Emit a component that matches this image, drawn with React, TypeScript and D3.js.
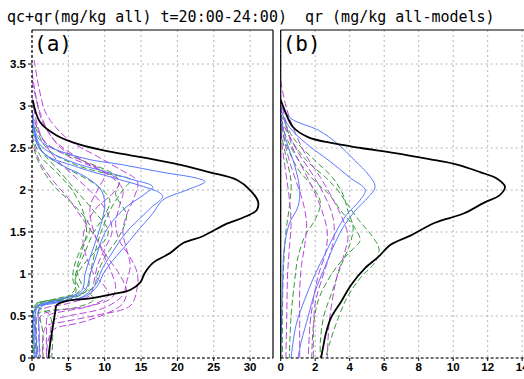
import React from "react"
import * as d3 from "d3"

type Pt = [number, number]

// axis ticks and titles
const yTicks = [0, 0.5, 1, 1.5, 2, 2.5, 3, 3.5]
const xTicksA = [0, 5, 10, 15, 20, 25, 30]
const xTicksB = [0, 2, 4, 6, 8, 10, 12, 14]
const titleA = "qc+qr(mg/kg all) t=20:00-24:00)"
const titleB = "qr (mg/kg all-models)"

// panel (a): qc+qr, black = reference profile
const obsA: Pt[] = [
    [0.1, 3.07], [1.1, 2.81], [3.4, 2.65], [6.6, 2.54], [11.1, 2.45], [15.8, 2.38], [20.4, 2.3],
    [24.5, 2.21], [28.2, 2.12], [30.0, 2.0], [31.1, 1.86], [30.9, 1.76], [29.0, 1.67], [26.8, 1.6],
    [23.5, 1.45], [20.8, 1.37], [19.0, 1.25], [16.6, 1.13], [15.5, 1.01], [14.9, 0.9], [13.5, 0.81],
    [11.1, 0.76], [8.0, 0.71], [4.8, 0.68], [3.4, 0.63], [3.2, 0.55], [2.75, 0.31], [2.3, 0.04], [2.3, 0],
]

const blueA: Pt[][] = [
    [[0, 2.95], [1, 2.6], [6.6, 2.39], [12.5, 2.3], [18, 2.21], [22.7, 2.14], [23.8, 2.1], [21.3, 2.0], [18, 1.88],
     [16.6, 1.72], [14.4, 1.5], [12.5, 1.3], [11, 1.15], [9.8, 1.0], [9, 0.86], [7.5, 0.74], [3, 0.65], [0.5, 0.6], [0.3, 0.3], [0.3, 0]],
    [[0, 2.9], [1, 2.55], [5, 2.35], [10, 2.22], [14, 2.12], [16.6, 2.04], [15.5, 1.95], [13, 1.8], [11, 1.62],
     [9.8, 1.45], [8.8, 1.2], [8, 1.0], [7.4, 0.82], [5, 0.7], [1, 0.62], [0.5, 0.55], [0.6, 0.2], [0.6, 0]],
    [[0, 2.85], [1.5, 2.45], [6, 2.28], [11, 2.15], [15, 2.05], [17.5, 1.97], [18, 1.92], [16.5, 1.8], [15.3, 1.7],
     [13, 1.5], [11, 1.25], [9.6, 1.05], [8.8, 0.88], [7, 0.73], [2, 0.64], [1, 0.58], [1, 0.3], [1, 0]],
    [[0, 2.8], [1, 2.5], [4, 2.3], [7.5, 2.15], [9.5, 2.0], [10, 1.85], [9.8, 1.7], [9, 1.45], [8, 1.2],
     [7.3, 1.0], [6.8, 0.8], [3, 0.68], [0.5, 0.6], [0.5, 0]],
]

const greenA: Pt[][] = [
    [[0, 2.85], [2, 2.5], [6, 2.3], [10, 2.2], [13.5, 2.12], [12.5, 2.0], [11, 1.8], [9.5, 1.5], [8.5, 1.2],
     [8, 1.0], [7.5, 0.8], [5, 0.7], [1, 0.66], [0.2, 0.6], [0.2, 0]],
    [[0, 2.75], [1.5, 2.45], [5, 2.25], [9, 2.05], [10.7, 1.88], [10, 1.7], [8.5, 1.5], [7, 1.2], [6, 1.0],
     [5.8, 0.8], [4, 0.7], [1, 0.64], [0.5, 0.58], [0.6, 0]],
    [[0, 2.7], [1, 2.5], [4, 2.2], [6.5, 1.95], [8.5, 1.75], [10.5, 1.5], [9, 1.3], [7, 1.1], [6, 0.95],
     [6.5, 0.8], [5, 0.72], [2, 0.65], [1, 0.6], [1.5, 0.3], [1.5, 0]],
    [[0, 2.6], [0.8, 2.35], [3, 2.05], [6, 1.8], [8, 1.55], [7, 1.35], [6, 1.15], [5.6, 0.95], [6, 0.78],
     [3, 0.7], [0.5, 0.62], [0.3, 0]],
    [[0, 2.9], [2, 2.55], [7, 2.35], [11, 2.2], [12, 2.1], [11.5, 1.95], [13, 1.7], [12, 1.45], [10, 1.2],
     [9, 1.0], [8.5, 0.85], [6, 0.74], [2, 0.68], [0.5, 0.64], [2.5, 0.5], [2.7, 0]],
    [[0, 2.65], [1.2, 2.4], [3.5, 2.2], [5.5, 2.0], [7, 1.75], [7.5, 1.5], [6.8, 1.25], [6.2, 1.05], [7, 0.85],
     [8.5, 0.7], [6, 0.6], [2, 0.56], [0.8, 0.52], [0.9, 0]],
]

const magentaA: Pt[][] = [
    [[0.3, 3.55], [1, 3.2], [2, 2.9], [5, 2.6], [9, 2.4], [12, 2.25], [14.5, 2.1], [14, 1.9], [13, 1.7],
     [12.5, 1.5], [13, 1.3], [13.5, 1.1], [13, 0.9], [12.5, 0.75], [10, 0.6], [5, 0.5], [3, 0.45], [2.5, 0.3], [2.5, 0]],
    [[0, 3.4], [0.8, 3.0], [1.5, 2.8], [4, 2.5], [8, 2.3], [11, 2.15], [12.5, 2.0], [12, 1.8], [11.5, 1.6],
     [12, 1.4], [13.5, 1.2], [14.5, 1.0], [14.4, 0.8], [13.5, 0.62], [8.9, 0.51], [4.3, 0.43], [2, 0.38], [1.5, 0.25], [1.5, 0]],
    [[0, 3.1], [1, 2.7], [3, 2.4], [6, 2.15], [9, 1.9], [10.5, 1.7], [11, 1.5], [10, 1.3], [9, 1.1],
     [8.5, 0.9], [8, 0.75], [5, 0.65], [2, 0.6], [0.8, 0.55], [0.8, 0]],
    [[0, 2.95], [1.5, 2.6], [5, 2.4], [9, 2.25], [12, 2.1], [11, 1.95], [9, 1.8], [7.5, 1.6], [7, 1.4],
     [7.5, 1.2], [8.5, 1.0], [10, 0.85], [10.5, 0.75], [8, 0.62], [4, 0.55], [2.2, 0.5], [2, 0.3], [2, 0]],
    [[0, 2.65], [1, 2.35], [3, 2.1], [5, 1.9], [7, 1.65], [9, 1.4], [10, 1.2], [11, 1.0], [11.5, 0.85],
     [11, 0.72], [8, 0.62], [3, 0.56], [1.2, 0.5], [1.2, 0]],
    [[0, 3.3], [1.2, 2.9], [3, 2.6], [7, 2.35], [10, 2.2], [9, 2.0], [8, 1.8], [8.5, 1.5], [10, 1.25],
     [12, 1.0], [13, 0.8], [12.5, 0.65], [10, 0.52], [6.6, 0.42], [3, 0.34], [2.2, 0.2], [2, 0]],
]

// panel (b): qr only
const obsB: Pt[] = [
    [0.0, 3.07], [0.23, 2.95], [0.71, 2.75], [1.58, 2.63], [2.92, 2.56], [4.65, 2.5], [6.63, 2.44], [8.54, 2.37],
    [10.28, 2.3], [11.6, 2.21], [12.5, 2.14], [13.0, 2.04], [12.7, 1.94], [11.8, 1.85], [10.6, 1.72],
    [8.94, 1.61], [7.55, 1.46], [6.39, 1.35], [5.64, 1.2], [4.89, 1.07], [4.08, 0.87], [3.5, 0.67],
    [2.92, 0.48], [2.63, 0.3], [2.45, 0.12], [2.34, 0],
]

const blueB: Pt[][] = [
    [[0, 3.0], [0.6, 2.85], [2.2, 2.71], [3.3, 2.55], [4.3, 2.35], [5.1, 2.18], [5.47, 2.04], [5.1, 1.92], [4.3, 1.75],
     [3.6, 1.55], [3.0, 1.3], [2.5, 1.05], [2.0, 0.8], [1.6, 0.5], [1.2, 0.2], [1.0, 0]],
    [[0, 2.95], [0.5, 2.75], [1.5, 2.55], [2.8, 2.35], [4, 2.15], [4.9, 2.0], [4.6, 1.88], [3.8, 1.7], [3.2, 1.5],
     [2.6, 1.25], [2.0, 1.0], [1.4, 0.7], [0.9, 0.4], [0.6, 0]],
    [[0, 2.9], [0.3, 2.6], [0.8, 2.3], [1.1, 2.0], [1.0, 1.8], [0.5, 1.6], [0.2, 1.3], [0.1, 0.8], [0, 0]],
]

const greenB: Pt[][] = [
    [[0, 2.85], [0.6, 2.6], [1.5, 2.35], [2.6, 2.15], [3.3, 2.0], [3.8, 1.85], [4.5, 1.65], [5.3, 1.45], [5.7, 1.3],
     [5.5, 1.15], [4.6, 0.95], [3.8, 0.7], [3.2, 0.4], [2.8, 0.15], [2.6, 0]],
    [[0, 2.8], [0.5, 2.55], [1.2, 2.3], [2.0, 2.1], [2.8, 1.95], [3.5, 1.75], [4.3, 1.55], [4.6, 1.4], [4.2, 1.3],
     [3.5, 1.15], [2.8, 0.95], [2.2, 0.7], [1.9, 0.4], [1.8, 0]],
    [[0, 2.75], [0.4, 2.5], [1.0, 2.25], [1.8, 2.05], [2.3, 1.85], [2.0, 1.65], [1.4, 1.45], [1.0, 1.2], [0.8, 0.9],
     [0.6, 0.5], [0.5, 0]],
    [[0, 2.7], [0.3, 2.4], [0.6, 2.1], [0.5, 1.8], [0.3, 1.5], [0.15, 1.0], [0.1, 0.5], [0.1, 0]],
    [[0, 2.9], [0.8, 2.6], [2.0, 2.35], [3.0, 2.15], [3.6, 1.95], [3.9, 1.75], [4.2, 1.55], [4.0, 1.35], [3.5, 1.1],
     [3.0, 0.8], [2.5, 0.5], [2.3, 0.2], [2.3, 0]],
]

const magentaB: Pt[][] = [
    [[0, 3.3], [0.3, 3.0], [0.8, 2.7], [1.5, 2.4], [2.3, 2.15], [3.0, 1.9], [3.6, 1.65], [3.9, 1.45], [3.7, 1.25],
     [3.3, 1.0], [3.0, 0.7], [2.8, 0.4], [2.7, 0]],
    [[0, 3.1], [0.3, 2.8], [0.7, 2.5], [1.3, 2.25], [1.9, 2.0], [2.4, 1.75], [2.7, 1.5], [2.6, 1.25], [2.2, 1.0],
     [1.9, 0.7], [1.7, 0.4], [1.6, 0]],
    [[0, 2.9], [0.2, 2.6], [0.5, 2.35], [0.9, 2.1], [1.3, 1.85], [1.5, 1.6], [1.4, 1.35], [1.2, 1.1], [1.1, 0.8],
     [1.1, 0.4], [1.1, 0]],
    [[0, 2.8], [0.1, 2.5], [0.3, 2.2], [0.5, 1.9], [0.6, 1.6], [0.5, 1.3], [0.4, 1.0], [0.35, 0.5], [0.3, 0]],
    [[0, 3.0], [0.4, 2.7], [1.0, 2.45], [1.8, 2.2], [2.5, 1.95], [3.0, 1.7], [3.1, 1.45], [2.8, 1.2], [2.4, 0.95],
     [2.0, 0.65], [1.9, 0.3], [1.9, 0]],
]

const BLUE = "#5878ff"
const GREEN = "#35993a"
const MAGENTA = "#b848dc"

const top = 30
const bottom = 358
const y = d3.scaleLinear().domain([0, 3.905]).range([bottom, top])

interface PanelProps {
    id: string
    x: d3.ScaleLinear<number, number>
    right: number
    xTicks: number[]
    obs: Pt[]
    blue: Pt[][]
    green: Pt[][]
    magenta: Pt[][]
    label: string
    yLabels: boolean
}

const Panel = ({ id, x, right, xTicks, obs, blue, green, magenta, label, yLabels }: PanelProps) => {
    const left = x(0)
    const line = d3
        .line<Pt>()
        .x((d) => x(d[0]))
        .y((d) => y(d[1]))
        .curve(d3.curveCatmullRom.alpha(0.5))

    return (
        <g>
            <clipPath id={id}>
                <rect x={left} y={top} width={right - left} height={bottom - top} />
            </clipPath>
            {/* dotted grid */}
            {xTicks.map((t) => (
                <line key={"gx" + t} x1={x(t)} x2={x(t)} y1={top} y2={bottom} stroke="#b4b4b4" strokeDasharray="2,3" />
            ))}
            {yTicks.map((t) => (
                <line key={"gy" + t} x1={left} x2={right} y1={y(t)} y2={y(t)} stroke="#b4b4b4" strokeDasharray="2,3" />
            ))}
            <g clipPath={`url(#${id})`} fill="none">
                {green.map((c, i) => (
                    <path key={"g" + i} d={line(c) ?? ""} stroke={GREEN} strokeWidth={1} strokeDasharray="6,3" />
                ))}
                {magenta.map((c, i) => (
                    <path key={"m" + i} d={line(c) ?? ""} stroke={MAGENTA} strokeWidth={1} strokeDasharray="7,3" />
                ))}
                {blue.map((c, i) => (
                    <path key={"b" + i} d={line(c) ?? ""} stroke={BLUE} strokeWidth={1} />
                ))}
                <path d={line(obs) ?? ""} stroke="#000" strokeWidth={1.8} />
            </g>
            {/* frame */}
            <line x1={left} x2={right} y1={top} y2={top} stroke="#000" strokeWidth={1.2} />
            <line x1={right} x2={right} y1={top} y2={bottom} stroke="#000" strokeWidth={1.2} />
            <line x1={left} x2={left} y1={top} y2={bottom} stroke="#000" strokeWidth={1.2} strokeDasharray={yLabels ? "3,2" : undefined} />
            <line x1={left} x2={right} y1={bottom} y2={bottom} stroke="#000" strokeWidth={1.2} strokeDasharray="3,2" />
            {/* x axis */}
            {xTicks.map((t) => (
                <g key={"xt" + t}>
                    <line x1={x(t)} x2={x(t)} y1={bottom} y2={bottom + 3} stroke="#000" />
                    <text x={x(t)} y={371} textAnchor="middle" fontSize={11.5} fontWeight="bold"
                        fontFamily="'Liberation Sans', Arial, sans-serif">{t}</text>
                </g>
            ))}
            {yLabels &&
                yTicks.map((t) => (
                    <g key={"yt" + t}>
                        <line x1={left - 4} x2={left} y1={y(t)} y2={y(t)} stroke="#000" />
                        <text x={26} y={y(t) + 4} textAnchor="end" fontSize={11.5} fontWeight="bold"
                            fontFamily="'Liberation Sans', Arial, sans-serif">{t}</text>
                    </g>
                ))}
            <text x={left + 2} y={51} fontSize={21} fontFamily="'DejaVu Sans Mono', monospace">{label}</text>
        </g>
    )
}

export default function App() {
    const xA = d3.scaleLinear().domain([0, 33.15]).range([32, 273])
    const xB = d3.scaleLinear().domain([0, 14]).range([280.7, 522.2])

    return (
        <svg width={524} height={379} style={{ position: "absolute", left: 0, top: 0, background: "#fff" }}>
            <rect width={524} height={379} fill="#fff" />
            <text x={7} y={22} fontSize={15} fontFamily="'DejaVu Sans Mono', monospace">{titleA}</text>
            <text x={305} y={22} fontSize={15} fontFamily="'DejaVu Sans Mono', monospace">{titleB}</text>
            <Panel id="clipA" x={xA} right={273} xTicks={xTicksA} obs={obsA} blue={blueA} green={greenA}
                magenta={magentaA} label="(a)" yLabels={true} />
            <Panel id="clipB" x={xB} right={532} xTicks={xTicksB} obs={obsB} blue={blueB} green={greenB}
                magenta={magentaB} label="(b)" yLabels={false} />
        </svg>
    )
}
